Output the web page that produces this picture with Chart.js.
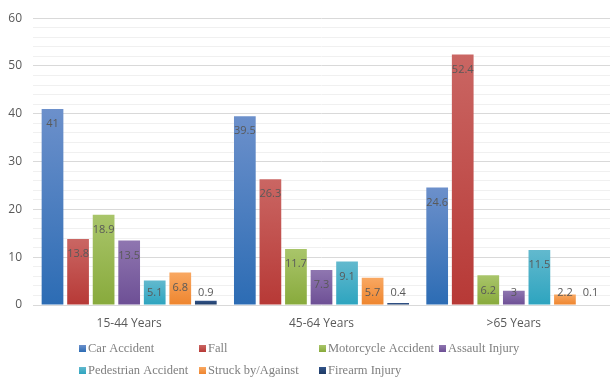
<!DOCTYPE html>
<html>
<head>
<meta charset="utf-8">
<script src="https://cdn.jsdelivr.net/npm/chart.js@4.4.1/dist/chart.umd.min.js"></script>
<style>
  html, body { margin: 0; padding: 0; background: #fff; }
  #wrap { width: 614px; height: 382px; }
</style>
</head>
<body>
<div id="wrap"><canvas id="injuryChart"></canvas></div>
<script>
// categories and series
const ageGroups = ['15-44 Years', '45-64 Years', '>65 Years'];
const seriesNames = ['Car Accident', 'Fall', 'Motorcycle Accident', 'Assault Injury',
                     'Pedestrian Accident', 'Struck by/Against', 'Firearm Injury'];
const carAccident = [41, 39.5, 24.6];
const fall = [13.8, 26.3, 52.4];
const motorcycle = [18.9, 11.7, 6.2];
const assault = [13.5, 7.3, 3];
const pedestrian = [5.1, 9.1, 11.5];
const struck = [6.8, 5.7, 2.2];
const firearm = [0.9, 0.4, 0.1];
const yTicksMajor = [0, 10, 20, 30, 40, 50, 60];

// top / bottom of each bar's gradient
const colorTop = ['#6c90cb', '#ca6663', '#a9c56a', '#8f76b0', '#62b9ce', '#f9a862', '#32548a'];
const colorBottom = ['#2c6cb4', '#b73936', '#88aa3c', '#6d4f95', '#2da4bf', '#ee852e', '#1d3a63'];

const allSeries = [carAccident, fall, motorcycle, assault, pedestrian, struck, firearm];

function barFill(i) {
    return ctx => {
        const chart = ctx.chart;
        const y = chart.scales && chart.scales.y;
        if (!chart.chartArea || !y || !ctx.parsed) return colorBottom[i];
        const top = y.getPixelForValue(ctx.parsed.y);
        const bottom = y.getPixelForValue(0);
        if (!(bottom - top > 0.5)) return colorBottom[i];
        const g = chart.ctx.createLinearGradient(0, top, 0, bottom);
        g.addColorStop(0, colorTop[i]);
        g.addColorStop(1, colorBottom[i]);
        return g;
    };
}

// Excel-like labels: inside end of the bar, pushed up for tiny bars
const barLabels = {
    id: 'barLabels',
    afterDatasetsDraw(chart) {
        const c = chart.ctx;
        const base = chart.scales.y.getPixelForValue(0);
        c.save();
        c.font = '11px "Open Sans", "DejaVu Sans", sans-serif';
        c.fillStyle = '#595959';
        c.textAlign = 'center';
        c.textBaseline = 'middle';
        chart.data.datasets.forEach((ds, di) => {
            chart.getDatasetMeta(di).data.forEach((bar, i) => {
                const yc = Math.min(bar.y + 15, base - 12);
                c.fillText(String(ds.data[i]), bar.x, yc);
            });
        });
        c.restore();
    }
};

// two row legend with fixed columns
const gridLegend = {
    id: 'gridLegend',
    afterDraw(chart) {
        const c = chart.ctx;
        c.save();
        c.font = '12.5px "Liberation Serif", "DejaVu Serif", serif';
        c.textBaseline = 'middle';
        c.textAlign = 'left';
        seriesNames.forEach((name, i) => {
            const col = i < 4 ? i : i - 4;
            const row = i < 4 ? 0 : 1;
            const x = 79 + col * 120;
            const y = 348 + row * 22;
            const g = c.createLinearGradient(0, y - 3, 0, y + 4);
            g.addColorStop(0, colorTop[i]);
            g.addColorStop(1, colorBottom[i]);
            c.fillStyle = g;
            c.fillRect(x, y - 3, 7, 7);
            c.fillStyle = '#7f7f7f';
            c.fillText(name, x + 9, y + 1);
        });
        c.restore();
    }
};

new Chart(document.getElementById('injuryChart'), {
    type: 'bar',
    data: {
        labels: ageGroups,
        datasets: seriesNames.map((name, i) => ({
            label: name,
            data: allSeries[i],
            backgroundColor: barFill(i),
            categoryPercentage: 0.93,
            barPercentage: 0.85
        }))
    },
    options: {
        responsive: true,
        maintainAspectRatio: false,
        animation: false,
        layout: { padding: { top: 16, right: 4, bottom: 52, left: 0 } },
        scales: {
            x: {
                grid: { display: false },
                border: { display: false },
                ticks: { color: '#595959', font: { size: 12, family: '"Open Sans", "DejaVu Sans", sans-serif' }, padding: 3 },
                afterFit(s) { s.height = 25; }
            },
            y: {
                min: 0,
                max: 60,
                border: { display: false },
                grid: {
                    drawTicks: false,
                    color: ctx => (yTicksMajor.includes(ctx.tick.value) ? '#d9d9d9' : '#f0f0f0'),
                    lineWidth: 1
                },
                ticks: {
                    stepSize: 2,
                    autoSkip: false,
                    padding: 11,
                    color: '#595959',
                    font: { size: 12, family: '"Open Sans", "DejaVu Sans", sans-serif' },
                    callback: v => (yTicksMajor.includes(v) ? v : '')
                },
                afterFit(s) { s.width = 33; }
            }
        },
        plugins: {
            legend: { display: false },
            tooltip: { enabled: false }
        }
    },
    plugins: [barLabels, gridLegend]
});
</script>
</body>
</html>
